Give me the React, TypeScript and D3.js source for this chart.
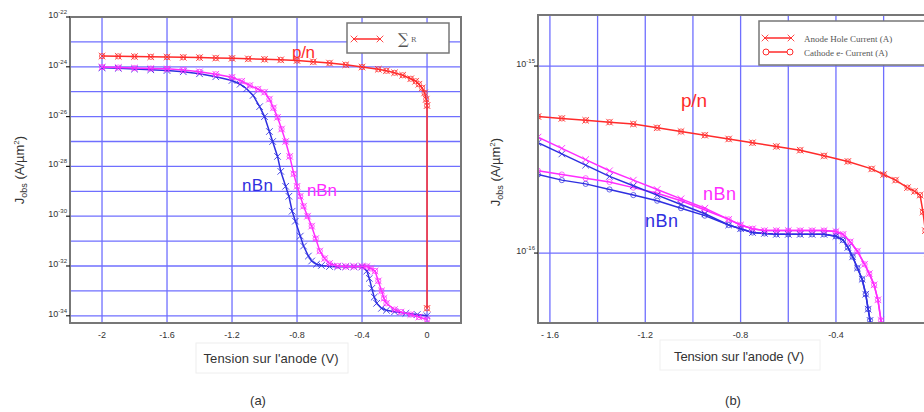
import React, { useEffect } from "react";
import * as d3 from "d3";

// ---- panel (a) : log10 of J (A/um2) vs anode voltage (V)
const voltA_pn = [-2.0, -1.9, -1.8, -1.7, -1.6, -1.5, -1.4, -1.3, -1.2, -1.1, -1.0, -0.9, -0.8, -0.7, -0.6, -0.5, -0.4, -0.3, -0.25, -0.2, -0.15, -0.1, -0.07, -0.05, -0.03, -0.015, -0.005, 0, 0];
const expA_pn = [-23.57, -23.58, -23.59, -23.6, -23.61, -23.62, -23.63, -23.65, -23.66, -23.68, -23.7, -23.72, -23.75, -23.8, -23.85, -23.92, -24.01, -24.1, -24.16, -24.24, -24.34, -24.48, -24.58, -24.7, -24.85, -25.05, -25.3, -25.56, -33.7];

const voltA_nbnBlue = [-2.0, -1.9, -1.8, -1.7, -1.6, -1.5, -1.4, -1.3, -1.2, -1.15, -1.11, -1.07, -1.03, -1.0, -0.97, -0.95, -0.92, -0.9, -0.87, -0.85, -0.83, -0.81, -0.78, -0.76, -0.73, -0.71, -0.68, -0.65, -0.6, -0.55, -0.5, -0.45, -0.4, -0.37, -0.355, -0.34, -0.325, -0.31, -0.28, -0.25, -0.2, -0.13, -0.06, 0];
const expA_nbnBlue = [-24.04, -24.06, -24.09, -24.12, -24.15, -24.2, -24.28, -24.4, -24.55, -24.7, -24.88, -25.15, -25.6, -26.0, -26.6, -27.0, -27.6, -28.2, -28.8, -29.2, -29.8, -30.2, -30.8, -31.2, -31.6, -31.8, -31.93, -31.98, -32.02, -32.03, -32.03, -32.03, -32.03, -32.2, -32.5, -32.9, -33.25, -33.5, -33.7, -33.78, -33.84, -33.9, -33.95, -34.0];

const voltA_nbnPink = [-2.0, -1.9, -1.8, -1.7, -1.6, -1.5, -1.4, -1.3, -1.2, -1.14, -1.09, -1.04, -1.0, -0.97, -0.945, -0.92, -0.895, -0.87, -0.845, -0.82, -0.8, -0.78, -0.76, -0.735, -0.71, -0.685, -0.66, -0.63, -0.6, -0.55, -0.5, -0.45, -0.4, -0.37, -0.345, -0.32, -0.3, -0.28, -0.265, -0.25, -0.2, -0.16, -0.1, -0.05, 0];
const expA_nbnPink = [-24.01, -24.03, -24.05, -24.07, -24.08, -24.13, -24.2, -24.3, -24.42, -24.58, -24.75, -24.9, -25.02, -25.3, -25.65, -26.03, -26.5, -27.0, -27.6, -28.3, -28.8, -29.2, -29.6, -30.0, -30.4, -30.9, -31.4, -31.7, -31.9, -32.0, -32.02, -32.02, -32.02, -32.02, -32.1, -32.2, -32.6, -33.0, -33.3, -33.5, -33.75, -33.85, -33.95, -34.05, -34.15];

const ticksA_x = [-2, -1.6, -1.2, -0.8, -0.4, 0];
const ticksA_yExp = [-22, -24, -26, -28, -30, -32, -34];
const gridA_yExp = [-23, -24, -25, -26, -27, -28, -29, -30, -31, -32, -33, -34];

// ---- panel (b)
const voltB_pn = [-1.65, -1.55, -1.45, -1.35, -1.25, -1.15, -1.05, -0.95, -0.85, -0.75, -0.65, -0.55, -0.45, -0.35, -0.25, -0.2, -0.15, -0.1, -0.07, -0.047, -0.035, -0.025, -0.015, -0.008, -0.003];
const expB_pn = [-15.27, -15.28, -15.29, -15.3, -15.31, -15.33, -15.35, -15.37, -15.39, -15.41, -15.43, -15.45, -15.48, -15.51, -15.55, -15.58, -15.61, -15.65, -15.67, -15.69, -15.78, -15.88, -16.0, -16.2, -16.5];

const voltB_blue = [-1.65, -1.55, -1.45, -1.35, -1.25, -1.15, -1.05, -0.95, -0.85, -0.8, -0.75, -0.7, -0.65, -0.6, -0.55, -0.5, -0.45, -0.4, -0.37, -0.35, -0.33, -0.31, -0.29, -0.275, -0.265, -0.257, -0.25];
const expB_blueAnode = [-15.41, -15.47, -15.53, -15.59, -15.64, -15.69, -15.74, -15.79, -15.85, -15.87, -15.89, -15.895, -15.9, -15.9, -15.9, -15.9, -15.9, -15.91, -15.93, -15.97, -16.02, -16.08, -16.14, -16.22, -16.3, -16.36, -16.45];
const expB_blueCathode = [-15.58, -15.61, -15.63, -15.66, -15.69, -15.72, -15.76, -15.8, -15.85, -15.87, -15.89, -15.895, -15.9, -15.9, -15.9, -15.9, -15.9, -15.91, -15.93, -15.97, -16.02, -16.08, -16.14, -16.22, -16.3, -16.36, -16.45];

const voltB_pink = [-1.65, -1.55, -1.45, -1.35, -1.25, -1.15, -1.05, -0.95, -0.85, -0.8, -0.75, -0.7, -0.65, -0.6, -0.55, -0.5, -0.45, -0.4, -0.37, -0.34, -0.31, -0.28, -0.26, -0.24, -0.224, -0.211, -0.2];
const expB_pinkAnode = [-15.38, -15.44, -15.5, -15.56, -15.61, -15.66, -15.71, -15.76, -15.82, -15.85, -15.87, -15.88, -15.88, -15.88, -15.88, -15.88, -15.88, -15.885, -15.9, -15.94, -15.99, -16.06, -16.11, -16.17, -16.25, -16.36, -16.5];
const expB_pinkCathode = [-15.56, -15.58, -15.6, -15.62, -15.65, -15.68, -15.72, -15.77, -15.82, -15.85, -15.87, -15.88, -15.88, -15.88, -15.88, -15.88, -15.88, -15.885, -15.9, -15.94, -15.99, -16.06, -16.11, -16.17, -16.25, -16.36, -16.5];

const ticksB_x = [-1.6, -1.2, -0.8, -0.4];
const ticksB_xLabels = ["- 1.6", "-1.2", "-0.8", "-0.4"];
const gridB_x = [-1.6, -1.4, -1.2, -1.0, -0.8, -0.6, -0.4, -0.2, 0];
const ticksB_yExp = [-15, -16];

const RED = "#ff2b2b";
const BLUE = "#2f2fe0";
const PINK = "#ff2cff";
const GRID = "#6f6fff";
const FRAME = "#777";
const FONT = "'Liberation Sans', Arial, sans-serif";

type Ser = { v: number[]; e: number[]; color: string; marker: "x" | "o" | "xo" };

const Cross = ({ x, y, c, s = 3.3 }: { x: number; y: number; c: string; s?: number }) => (
  <path d={`M${x - s},${y - s}L${x + s},${y + s}M${x - s},${y + s}L${x + s},${y - s}`} stroke={c} strokeWidth={1} fill="none" opacity={0.85} />
);

const Pow = ({ x, y, e, anchor = "end" }: { x: number; y: number; e: number; anchor?: string }) => (
  <text x={x} y={y} fontSize={9} fill="#333" textAnchor={anchor} fontFamily={FONT}>
    10<tspan fontSize={6} dy={-4}>{e}</tspan>
  </text>
);

function Curves({ id, series, x, y, clip }: { id: string; series: Ser[]; x: d3.ScaleLinear<number, number>; y: d3.ScaleLogarithmic<number, number>; clip: number[] }) {
  const line = d3
    .line<[number, number]>()
    .x(d => x(d[0]))
    .y(d => y(Math.pow(10, d[1])));
  return (
    <g>
      <defs>
        <clipPath id={id}>
          <rect x={clip[0]} y={clip[1]} width={clip[2] - clip[0]} height={clip[3] - clip[1]} />
        </clipPath>
      </defs>
      <g clipPath={`url(#${id})`}>
        {series.map((s, i) => {
          const pts = s.v.map((v, j) => [v, s.e[j]] as [number, number]);
          return (
            <g key={i}>
              <path d={line(pts) || ""} fill="none" stroke={s.color} strokeWidth={1.5} />
              {pts.map((p, j) => {
                const px = x(p[0]);
                const py = y(Math.pow(10, p[1]));
                return (
                  <g key={j}>
                    {s.marker !== "o" && <Cross x={px} y={py} c={s.color} />}
                    {s.marker !== "x" && <circle cx={px} cy={py} r={2.6} fill="none" stroke={s.color} strokeWidth={0.9} opacity={0.8} />}
                  </g>
                );
              })}
            </g>
          );
        })}
      </g>
    </g>
  );
}

const YLabel = ({ x, y }: { x: number; y: number }) => (
  <text transform={`translate(${x},${y}) rotate(-90)`} textAnchor="middle" fontSize={13} fill="#333" fontFamily={FONT}>
    J<tspan fontSize={9} dy={3}>obs</tspan>
    <tspan dy={-3}> (A/µm</tspan>
    <tspan fontSize={8} dy={-5}>2</tspan>
    <tspan dy={5}>)</tspan>
  </text>
);

export default function App() {
  useEffect(() => {
    document.body.style.margin = "0";
    document.body.style.overflow = "hidden";
  }, []);

  // panel (a) frame
  const aL = 70, aR = 461, aT = 17, aB = 323;
  const xA = d3.scaleLinear().domain([-2.197, 0.209]).range([aL, aR]);
  const yA = d3.scaleLog().domain([Math.pow(10, -34.29), 1e-22]).range([aB, aT]);

  // panel (b) frame
  const bL = 538, bR = 945, bT = 15, bB = 323;
  const xB = d3.scaleLinear().domain([-1.65, (bR - 931.3) / 238.3]).range([bL, bR]);
  const yB = d3.scaleLog().domain([Math.pow(10, -16.374), Math.pow(10, -14.727)]).range([bB, bT]);

  const seriesA: Ser[] = [
    { v: voltA_pn, e: expA_pn, color: RED, marker: "xo" },
    { v: voltA_nbnBlue, e: expA_nbnBlue, color: BLUE, marker: "x" },
    { v: voltA_nbnPink, e: expA_nbnPink, color: PINK, marker: "xo" },
  ];
  const seriesB: Ser[] = [
    { v: voltB_pn, e: expB_pn, color: RED, marker: "xo" },
    { v: voltB_blue, e: expB_blueCathode, color: BLUE, marker: "o" },
    { v: voltB_pink, e: expB_pinkCathode, color: PINK, marker: "o" },
    { v: voltB_blue, e: expB_blueAnode, color: BLUE, marker: "x" },
    { v: voltB_pink, e: expB_pinkAnode, color: PINK, marker: "x" },
  ];

  return (
    <svg width={924} height={412} style={{ display: "block", background: "#fff" }} fontFamily={FONT}>
      {/* ---------- (a) ---------- */}
      <rect x={aL} y={aT} width={aR - aL} height={aB - aT} fill="#fff" />
      {gridA_yExp.map(e => (
        <line key={e} x1={aL} x2={aR} y1={yA(Math.pow(10, e))} y2={yA(Math.pow(10, e))} stroke={GRID} strokeWidth={1.3} />
      ))}
      {ticksA_x.map(t => (
        <line key={t} x1={xA(t)} x2={xA(t)} y1={aT} y2={aB} stroke={GRID} strokeWidth={1.3} />
      ))}
      <Curves id="clipA" series={seriesA} x={xA} y={yA} clip={[aL, aT, aR, aB]} />
      <rect x={aL} y={aT} width={aR - aL} height={aB - aT} fill="none" stroke={FRAME} strokeWidth={2} />
      {ticksA_yExp.map(e => (
        <g key={e}>
          <line x1={aL - 4} x2={aL} y1={yA(Math.pow(10, e))} y2={yA(Math.pow(10, e))} stroke="#222" strokeWidth={1.2} />
          <Pow x={aL - 3} y={yA(Math.pow(10, e)) + 1} e={e} />
        </g>
      ))}
      {ticksA_x.map(t => (
        <text key={t} x={xA(t)} y={aB + 15} fontSize={9} fill="#333" textAnchor="middle">{t}</text>
      ))}
      {/* legend a */}
      <rect x={347} y={23} width={102} height={30} fill="#fff" stroke={FRAME} strokeWidth={1.5} />
      <line x1={353} x2={381} y1={39} y2={39} stroke={RED} strokeWidth={1.5} />
      <Cross x={354} y={39} c={RED} />
      <Cross x={380} y={39} c={RED} />
      <text x={398} y={44} fontSize={15} fill="#555" fontFamily="'DejaVu Serif', serif">∑</text>
      <text x={411} y={42} fontSize={7} fill="#555" fontFamily="'DejaVu Serif', serif">R</text>
      {/* labels a */}
      <text x={292} y={58} fontSize={17} fill={RED} textLength={23}>p/n</text>
      <text x={242} y={191} fontSize={17} fill={BLUE} textLength={31}>nBn</text>
      <text x={307} y={196} fontSize={17} fill={PINK} textLength={30}>nBn</text>
      <rect x={196} y={343} width={152} height={30} fill="none" stroke="#eee" strokeWidth={1} />
      <text x={271} y={363} fontSize={13} fill="#333" textAnchor="middle" textLength={135}>Tension sur l'anode (V)</text>
      <YLabel x={24} y={170} />
      <text x={258} y={405} fontSize={13} fill="#333" textAnchor="middle">(a)</text>

      {/* ---------- (b) ---------- */}
      <rect x={bL} y={bT} width={bR - bL} height={bB - bT} fill="#fff" />
      {ticksB_yExp.map(e => (
        <line key={e} x1={bL} x2={bR} y1={yB(Math.pow(10, e))} y2={yB(Math.pow(10, e))} stroke={GRID} strokeWidth={1.3} />
      ))}
      {gridB_x.map(t => (
        <line key={t} x1={xB(t)} x2={xB(t)} y1={bT} y2={bB} stroke={GRID} strokeWidth={1.3} />
      ))}
      <Curves id="clipB" series={seriesB} x={xB} y={yB} clip={[bL, bT, bR, bB]} />
      <rect x={bL} y={bT} width={bR - bL} height={bB - bT} fill="none" stroke={FRAME} strokeWidth={2} />
      {ticksB_yExp.map(e => (
        <g key={e}>
          <line x1={bL - 4} x2={bL} y1={yB(Math.pow(10, e))} y2={yB(Math.pow(10, e))} stroke="#222" strokeWidth={1.2} />
          <Pow x={bL - 3} y={yB(Math.pow(10, e)) + 1} e={e} />
        </g>
      ))}
      {ticksB_x.map((t, i) => (
        <text key={t} x={xB(t)} y={bB + 15} fontSize={9} fill="#333" textAnchor="middle">{ticksB_xLabels[i]}</text>
      ))}
      {/* legend b */}
      <rect x={759} y={21} width={180} height={44} fill="#fff" stroke={FRAME} strokeWidth={1.5} />
      <line x1={764} x2={792} y1={38} y2={38} stroke={RED} strokeWidth={1.5} />
      <Cross x={765} y={38} c={RED} />
      <Cross x={791} y={38} c={RED} />
      <text x={804} y={42} fontSize={9} fill="#555" fontFamily="'Liberation Serif', serif">Anode Hole Current (A)</text>
      <line x1={764} x2={792} y1={52} y2={52} stroke={RED} strokeWidth={1.5} />
      <circle cx={766} cy={52} r={3} fill="#fff" stroke={RED} />
      <circle cx={790} cy={52} r={3} fill="#fff" stroke={RED} />
      <text x={804} y={56} fontSize={9} fill="#555" fontFamily="'Liberation Serif', serif">Cathode e- Current (A)</text>
      {/* labels b */}
      <text x={681} y={107} fontSize={19} fill={RED} textLength={26}>p/n</text>
      <text x={703} y={200} fontSize={18} fill={PINK} textLength={33}>nBn</text>
      <text x={645} y={227} fontSize={18} fill={BLUE} textLength={33}>nBn</text>
      <rect x={660} y={340} width={160} height={30} fill="none" stroke="#f0f0f0" strokeWidth={1} />
      <text x={739} y={361} fontSize={13} fill="#333" textAnchor="middle" textLength={130}>Tension sur l'anode (V)</text>
      <YLabel x={500} y={172} />
      <text x={733} y={405} fontSize={13} fill="#333" textAnchor="middle">(b)</text>
    </svg>
  );
}
